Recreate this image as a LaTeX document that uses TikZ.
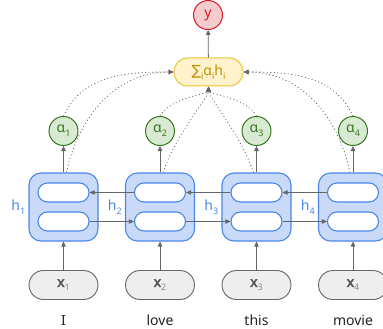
\documentclass[tikz,border=0pt]{standalone}
\usepackage{fontspec}
\setmainfont{Noto Sans}
\newfontfamily\symfont{DejaVu Sans}
\newfontfamily\heavyfont{Noto Sans}[FakeBold=3]
\usepackage{xcolor}
\usetikzlibrary{arrows.meta,positioning,calc}

\definecolor{ydraw}{RGB}{218,22,40}
\definecolor{yfill}{RGB}{244,204,204}
\definecolor{sdraw}{RGB}{241,194,50}
\definecolor{sfill}{RGB}{255,242,204}
\definecolor{stext}{RGB}{191,144,0}
\definecolor{adraw}{RGB}{56,118,29}
\definecolor{afill}{RGB}{217,234,211}
\definecolor{cdraw}{RGB}{74,134,232}
\definecolor{cfill}{RGB}{201,218,248}
\definecolor{xdraw}{RGB}{102,102,102}
\definecolor{xfill}{RGB}{238,238,238}
\definecolor{xtext}{RGB}{85,85,85}
\definecolor{xsub}{RGB}{140,140,140}
\definecolor{agray}{RGB}{102,102,102}
\definecolor{wtext}{RGB}{34,34,34}

\pgfdeclarelayer{background}
\pgfsetlayers{background,main}

\newcommand{\lowsub}[1]{\raisebox{-0.5ex}{\fontsize{9}{9}\selectfont #1}}

\begin{document}
\begin{tikzpicture}[x=1pt,y=1pt,font=\fontsize{14}{16}\selectfont,
  outnode/.style={circle,draw=ydraw,fill=yfill,text=ydraw,line width=1pt,minimum size=29pt,inner sep=0pt},
  sumnode/.style={rectangle,rounded corners=13.5pt,draw=sdraw,fill=sfill,text=stext,line width=1pt,minimum width=69pt,minimum height=28pt,inner sep=0pt},
  attnode/.style={circle,draw=adraw,fill=afill,text=adraw,line width=1pt,minimum size=29pt,inner sep=0pt},
  cellnode/.style={rectangle,rounded corners=12pt,draw=cdraw,fill=cfill,line width=1.1pt,minimum width=69pt,minimum height=68pt},
  gatenode/.style={rectangle,rounded corners=9.5pt,draw=cdraw,fill=white,line width=1.1pt,minimum width=51pt,minimum height=19pt,inner sep=0pt},
  innode/.style={rectangle,rounded corners=14.5pt,draw=xdraw,fill=xfill,text=xtext,line width=0.9pt,minimum width=69pt,minimum height=29pt,inner sep=0pt},
  wordnode/.style={text=wtext,inner sep=0pt},
  hlab/.style={text=cdraw,inner sep=0pt},
  arr/.style={draw=agray,line width=0.8pt,-{Triangle[length=5pt,width=4.5pt]}},
  att/.style={arr,dash pattern=on 1pt off 2.5pt}]
\useasboundingbox (0,0) rectangle (383,-329);

\node[outnode] (y) at (208,-15) {y};
\node[sumnode] (sum) at (208.5,-72) {{\symfont ∑}\lowsub{i}α\lowsub{i}h\lowsub{i}};

\foreach \i/\w in {1/I,2/love,3/this,4/movie}{
  \pgfmathsetmacro{\cx}{63.5+96.5*(\i-1)}
  \node[attnode] (a\i) at (\cx,-131) {α\lowsub{\i}};
  \node[cellnode] (cell\i) at (\cx,-207) {};
  \node[gatenode] (top\i) at (\cx,-192.5) {};
  \node[gatenode] (bot\i) at (\cx,-221.5) {};
  \node[hlab,left=3pt of cell\i] (h\i) {h\lowsub{\i}};
  \node[innode] (x\i) at (\cx,-285) {{\heavyfont x}{\color{xsub}\lowsub{\i}}};
  \node[wordnode] (w\i) at (\cx,-320) {\w};
  \draw[arr] (x\i) -- (cell\i);
  \draw[arr] (cell\i) -- (a\i);
}

% recurrent links
\foreach \i/\j in {1/2,2/3,3/4}{
  \draw[arr] (top\j.west) -- (top\i.east);
  \draw[arr] (bot\i.east) -- (bot\j.west);
}

\draw[arr] (sum) -- (y);

% attention weights
\begin{pgfonlayer}{background}
\draw[att] (a1.north) to[out=65,in=180] (sum.west);
\draw[att] ([xshift=3pt]cell1.north) to[out=78,in=180] (sum.west);
\draw[att] (a2.north) to[out=60,in=-92,in looseness=0.35] (sum.south);
\draw[att] ([xshift=3pt]cell2.north) to[out=72,in=-92,in looseness=0.3] (sum.south);
\draw[att] (a3.north) to[out=120,in=-88,in looseness=0.35] (sum.south);
\draw[att] ([xshift=-3pt]cell3.north) to[out=108,in=-88,in looseness=0.3] (sum.south);
\draw[att] (a4.north) to[out=115,in=0] (sum.east);
\draw[att] ([xshift=-3pt]cell4.north) to[out=102,in=0] (sum.east);
\end{pgfonlayer}
\end{tikzpicture}
\end{document}
